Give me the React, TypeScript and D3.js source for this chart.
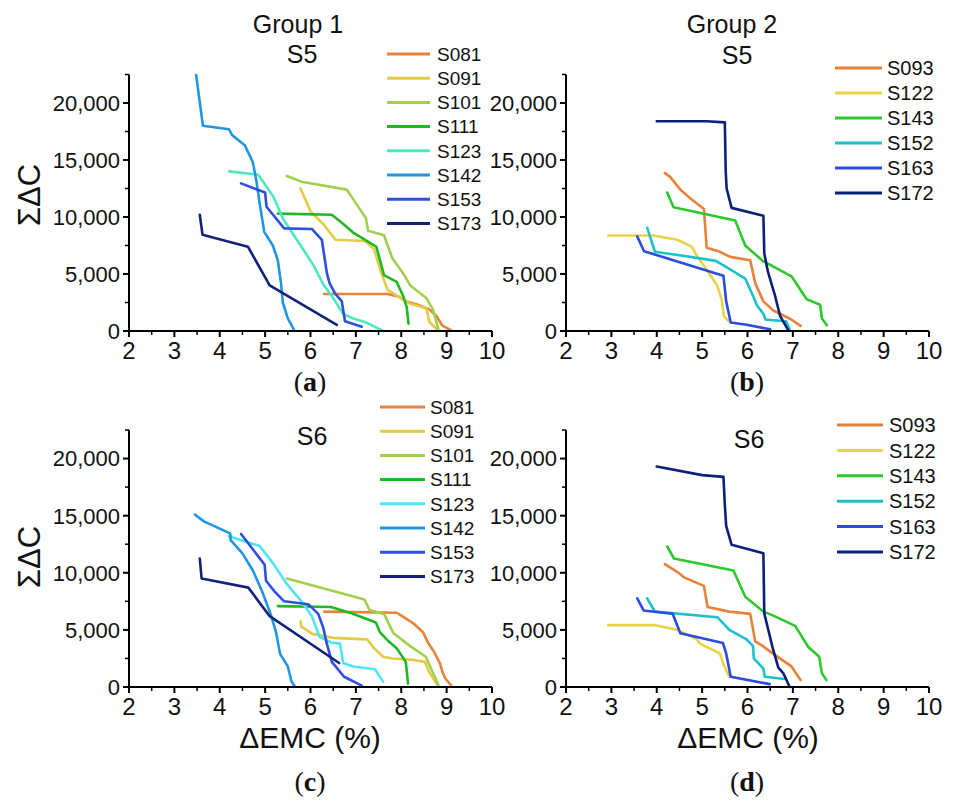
import React from "react";
import * as d3 from "d3";

const X_TICKS = [2, 3, 4, 5, 6, 7, 8, 9, 10];
const X_MINOR = [2.5, 3.5, 4.5, 5.5, 6.5, 7.5, 8.5, 9.5];
const Y_TICKS = [0, 5000, 10000, 15000, 20000];
const Y_MINOR = [2500, 7500, 12500, 17500, 22500];
const X_DOMAIN = [2, 10];
const Y_DOMAIN = [0, 22500];

// ---- Group 1, S5 (a)
const A_S081 = [[6.3, 3250], [7.7, 3250], [7.95, 3000], [8.1, 2600], [8.4, 2250], [8.62, 1900], [8.78, 1300], [8.9, 500], [9.1, 50]];
const A_S091 = [[5.78, 12500], [6.0, 10500], [6.3, 9300], [6.55, 8000], [7.2, 7900], [7.4, 7200], [7.55, 5200], [7.7, 3600], [7.9, 3100], [8.2, 2400], [8.55, 2000], [8.62, 800], [8.8, 50]];
const A_S101 = [[5.48, 13600], [5.8, 13100], [6.8, 12400], [7.22, 9900], [7.27, 8800], [7.62, 8400], [7.8, 6400], [8.05, 5000], [8.2, 4000], [8.55, 2900], [8.7, 1900], [8.82, 100]];
const A_S111 = [[5.28, 10300], [6.47, 10200], [6.75, 9300], [6.95, 8600], [7.45, 7400], [7.62, 4900], [7.9, 4300], [8.05, 3000], [8.12, 2100], [8.16, 650]];
const A_S123 = [[4.21, 14000], [4.85, 13700], [5.18, 11800], [5.4, 9800], [5.7, 8000], [6.06, 5800], [6.28, 4100], [6.5, 2900], [6.72, 1500], [6.94, 1100], [7.2, 800], [7.6, 0]];
const A_S142 = [[3.48, 22450], [3.63, 18000], [4.2, 17700], [4.27, 17200], [4.55, 16300], [4.73, 14800], [4.81, 13100], [4.88, 11200], [4.98, 8700], [5.17, 7500], [5.28, 6200], [5.35, 4200], [5.39, 2500], [5.5, 1100], [5.65, 0]];
const A_S153 = [[4.47, 12950], [5.0, 12150], [5.03, 10900], [5.42, 9000], [6.03, 8950], [6.25, 8000], [6.36, 5100], [6.42, 4200], [6.54, 3300], [6.69, 2600], [6.76, 850], [7.13, 380]];
const A_S173 = [[3.56, 10200], [3.62, 8450], [4.62, 7400], [5.1, 4000], [6.58, 530]];

// ---- Group 2, S5 (b)
const B_S093 = [[4.18, 13850], [4.3, 13500], [4.52, 12400], [4.75, 11600], [5.04, 10700], [5.1, 7300], [5.36, 7000], [5.62, 6500], [6.06, 6200], [6.17, 4200], [6.35, 2600], [6.57, 1800], [6.95, 1050], [7.17, 450]];
const B_S122 = [[2.93, 8380], [3.93, 8380], [4.45, 8000], [4.77, 7400], [4.9, 6500], [5.1, 5400], [5.33, 4000], [5.43, 2800], [5.48, 1300], [5.58, 900]];
const B_S143 = [[4.23, 12150], [4.37, 10850], [5.73, 9700], [5.95, 7500], [6.35, 6100], [6.55, 5700], [6.97, 4800], [7.3, 2800], [7.6, 2300], [7.64, 1100], [7.75, 500]];
const B_S152 = [[3.79, 9050], [3.96, 6950], [4.5, 6650], [5.3, 6150], [5.5, 5700], [5.95, 4600], [6.13, 3000], [6.2, 2300], [6.35, 1500], [6.4, 1000], [6.85, 850], [6.93, 100]];
const B_S163 = [[3.57, 8300], [3.72, 7000], [5.47, 4850], [5.53, 2600], [5.63, 750], [5.98, 550], [6.5, 150]];
const B_S172 = [[4.0, 18400], [5.1, 18400], [5.5, 18300], [5.52, 14000], [5.54, 12500], [5.65, 10800], [6.35, 10100], [6.37, 6800], [6.45, 5200], [6.6, 3200], [6.72, 1300], [6.9, 50]];

// ---- Group 1, S6 (c)
const C_S081 = [[6.3, 6600], [7.9, 6500], [8.02, 6200], [8.26, 5600], [8.48, 4800], [8.6, 3800], [8.72, 3100], [8.85, 2100], [8.92, 1200], [8.98, 700], [9.1, 150]];
const C_S091 = [[5.78, 5750], [5.8, 5280], [6.04, 4650], [6.5, 4300], [7.25, 4170], [7.4, 3400], [7.6, 2650], [7.8, 2500], [8.2, 2400], [8.52, 2200], [8.63, 1200], [8.8, 170]];
const C_S101 = [[5.48, 9500], [7.19, 7660], [7.3, 6750], [7.62, 6400], [7.83, 4700], [8.19, 3600], [8.54, 2650], [8.66, 1600], [8.82, 150]];
const C_S111 = [[5.28, 7080], [6.45, 7000], [6.9, 6450], [7.44, 5650], [7.53, 4800], [7.72, 4000], [7.9, 3400], [8.1, 2200], [8.15, 300]];
const C_S123 = [[4.2, 13200], [4.88, 12350], [5.18, 10800], [5.48, 9000], [5.8, 7500], [6.03, 6200], [6.2, 4400], [6.45, 3900], [6.65, 3800], [6.72, 2100], [6.94, 1800], [7.42, 1550], [7.6, 470]];
const C_S142 = [[3.45, 15100], [3.65, 14500], [4.23, 13450], [4.24, 12850], [4.5, 11700], [4.73, 10200], [4.93, 8400], [5.12, 6400], [5.24, 4800], [5.33, 2900], [5.5, 1800], [5.58, 500], [5.66, 0]];
const C_S153 = [[4.47, 13400], [4.99, 10700], [5.02, 9300], [5.2, 8400], [5.42, 7500], [5.95, 7250], [6.17, 6400], [6.28, 5200], [6.36, 3800], [6.47, 2200], [6.74, 900], [7.13, 120]];
const C_S173 = [[3.56, 11250], [3.6, 9500], [4.63, 8700], [5.1, 6200], [6.63, 2100]];

// ---- Group 2, S6 (d)
const D_S093 = [[4.18, 10750], [4.48, 10000], [4.6, 9600], [5.04, 8850], [5.12, 7000], [5.6, 6600], [6.06, 6400], [6.17, 4000], [6.35, 3550], [6.57, 2900], [6.97, 1800], [7.17, 600]];
const D_S122 = [[2.93, 5420], [3.95, 5420], [4.45, 5000], [4.88, 4200], [4.95, 3800], [5.39, 2940], [5.48, 1900], [5.6, 900]];
const D_S143 = [[4.23, 12300], [4.38, 11250], [5.69, 10200], [5.95, 7900], [6.35, 6600], [6.57, 6250], [7.05, 5350], [7.34, 3500], [7.58, 2650], [7.64, 1200], [7.74, 600]];
const D_S152 = [[3.79, 7750], [3.96, 6600], [5.34, 6100], [5.6, 5000], [5.97, 4200], [6.12, 3600], [6.14, 2500], [6.35, 1600], [6.38, 900], [6.81, 700]];
const D_S163 = [[3.57, 7750], [3.71, 6700], [4.35, 6420], [4.52, 4700], [5.46, 3850], [5.53, 2940], [5.63, 900], [6.49, 250]];
const D_S172 = [[4.0, 19300], [5.0, 18550], [5.47, 18400], [5.5, 16000], [5.53, 14100], [5.65, 12450], [6.35, 11700], [6.37, 6450], [6.55, 3500], [6.68, 1700], [6.79, 1200], [6.93, 0]];

const G1_NAMES = ["S081", "S091", "S101", "S111", "S123", "S142", "S153", "S173"];
const G2_NAMES = ["S093", "S122", "S143", "S152", "S163", "S172"];
const G1_COLORS_S5 = ["#e8833a", "#e3cb45", "#a2d04a", "#22b825", "#4ce8c0", "#2196e0", "#2f4fe0", "#13237a"];
const G1_COLORS_S6 = ["#e8833a", "#e3cb45", "#a2d04a", "#22b825", "#4de6f5", "#2196e0", "#2f4fe0", "#13237a"];
const G2_COLORS = ["#e8823a", "#e8d347", "#2cc92c", "#1cc2c9", "#2b4ce3", "#0e1f7a"];

const A_DATA = [A_S081, A_S091, A_S101, A_S111, A_S123, A_S142, A_S153, A_S173];
const B_DATA = [B_S093, B_S122, B_S143, B_S152, B_S163, B_S172];
const C_DATA = [C_S081, C_S091, C_S101, C_S111, C_S123, C_S142, C_S153, C_S173];
const D_DATA = [D_S093, D_S122, D_S143, D_S152, D_S163, D_S172];

const SANS = "'Liberation Sans', Arial, sans-serif";
const SERIF = "'Liberation Serif', 'Times New Roman', serif";

type PanelProps = {
  left: number; right: number; top: number; bottom: number;
  names: string[]; colors: string[]; data: number[][][];
  legend: { x1: number; x2: number; tx: number; y0: number; dy: number; fs: number };
};

function Panel(p: PanelProps) {
  const x = d3.scaleLinear().domain(X_DOMAIN).range([p.left, p.right]);
  const y = d3.scaleLinear().domain(Y_DOMAIN).range([p.bottom, p.top]);
  const line = d3.line<number[]>().x((d) => x(d[0])).y((d) => y(d[1]));
  const fmt = d3.format(",");
  return (
    <g>
      {p.data.map((s, i) => (
        <path key={i} d={line(s) || ""} fill="none" stroke={p.colors[i]} strokeWidth={2.6} strokeLinejoin="round" strokeLinecap="round" />
      ))}
      <line x1={p.left} x2={p.left} y1={y(22500)} y2={p.bottom + 1} stroke="#000" strokeWidth={2} />
      <line x1={p.left - 1} x2={p.right} y1={p.bottom} y2={p.bottom} stroke="#000" strokeWidth={2} />
      {X_TICKS.map((t) => (
        <g key={t}>
          <line x1={x(t)} x2={x(t)} y1={p.bottom} y2={p.bottom + 6} stroke="#000" strokeWidth={2} />
          <text x={x(t)} y={p.bottom + 28} textAnchor="middle" fontFamily={SANS} fontSize={24} fill="#111">{t}</text>
        </g>
      ))}
      {X_MINOR.map((t) => (
        <line key={t} x1={x(t)} x2={x(t)} y1={p.bottom} y2={p.bottom + 4} stroke="#000" strokeWidth={1.5} />
      ))}
      {Y_TICKS.map((t) => (
        <g key={t}>
          <line x1={p.left - 6} x2={p.left} y1={y(t)} y2={y(t)} stroke="#000" strokeWidth={2} />
          <text x={p.left - 9} y={y(t)} dy="0.36em" textAnchor="end" fontFamily={SANS} fontSize={22} fill="#111">{fmt(t)}</text>
        </g>
      ))}
      {Y_MINOR.map((t) => (
        <line key={t} x1={p.left - 4} x2={p.left} y1={y(t)} y2={y(t)} stroke="#000" strokeWidth={1.5} />
      ))}
      {p.names.map((n, i) => (
        <g key={n}>
          <line x1={p.legend.x1} x2={p.legend.x2} y1={p.legend.y0 + i * p.legend.dy} y2={p.legend.y0 + i * p.legend.dy} stroke={p.colors[i]} strokeWidth={3} />
          <text x={p.legend.tx} y={p.legend.y0 + i * p.legend.dy} dy="0.36em" fontFamily={SANS} fontSize={p.legend.fs} fill="#111">{n}</text>
        </g>
      ))}
    </g>
  );
}

function SubLabel({ x, y, letter }: { x: number; y: number; letter: string }) {
  return (
    <text x={x} y={y} textAnchor="middle" fontFamily={SERIF} fontSize={28} fill="#111">
      (<tspan fontWeight="bold">{letter}</tspan>)
    </text>
  );
}

export default function App() {
  return (
    <svg width={953} height={803} style={{ display: "block", position: "absolute", left: 0, top: 0, background: "#fff" }}>
      <rect width={953} height={803} fill="#fff" />
      <Panel left={129} right={492} top={74.5} bottom={331} names={G1_NAMES} colors={G1_COLORS_S5} data={A_DATA}
        legend={{ x1: 387, x2: 430, tx: 437, y0: 54, dy: 24.2, fs: 19 }} />
      <Panel left={566} right={929} top={74.5} bottom={331} names={G2_NAMES} colors={G2_COLORS} data={B_DATA}
        legend={{ x1: 835, x2: 882, tx: 887, y0: 68, dy: 25, fs: 20 }} />
      <Panel left={129} right={492} top={430} bottom={687} names={G1_NAMES} colors={G1_COLORS_S6} data={C_DATA}
        legend={{ x1: 380, x2: 425, tx: 430, y0: 407, dy: 24.2, fs: 19 }} />
      <Panel left={566} right={929} top={430} bottom={687} names={G2_NAMES} colors={G2_COLORS} data={D_DATA}
        legend={{ x1: 837, x2: 883, tx: 889, y0: 425, dy: 25.4, fs: 20 }} />

      <text x={298} y={33} textAnchor="middle" fontFamily={SANS} fontSize={25} fill="#111">Group 1</text>
      <text x={302} y={63} textAnchor="middle" fontFamily={SANS} fontSize={25} fill="#111">S5</text>
      <text x={732} y={33} textAnchor="middle" fontFamily={SANS} fontSize={25} fill="#111">Group 2</text>
      <text x={737} y={64} textAnchor="middle" fontFamily={SANS} fontSize={25} fill="#111">S5</text>
      <text x={312} y={445} textAnchor="middle" fontFamily={SANS} fontSize={25} fill="#111">S6</text>
      <text x={749} y={448} textAnchor="middle" fontFamily={SANS} fontSize={25} fill="#111">S6</text>

      <text transform="translate(40,195) rotate(-90)" textAnchor="middle" fontFamily={SANS} fontSize={31} fill="#111">ΣΔC</text>
      <text transform="translate(40,557) rotate(-90)" textAnchor="middle" fontFamily={SANS} fontSize={31} fill="#111">ΣΔC</text>

      <text x={310} y={748} textAnchor="middle" fontFamily={SANS} fontSize={30} fill="#111">ΔEMC (%)</text>
      <text x={748} y={748} textAnchor="middle" fontFamily={SANS} fontSize={30} fill="#111">ΔEMC (%)</text>

      <SubLabel x={310} y={391} letter="a" />
      <SubLabel x={747} y={391} letter="b" />
      <SubLabel x={310} y={791} letter="c" />
      <SubLabel x={747} y={791} letter="d" />
    </svg>
  );
}
